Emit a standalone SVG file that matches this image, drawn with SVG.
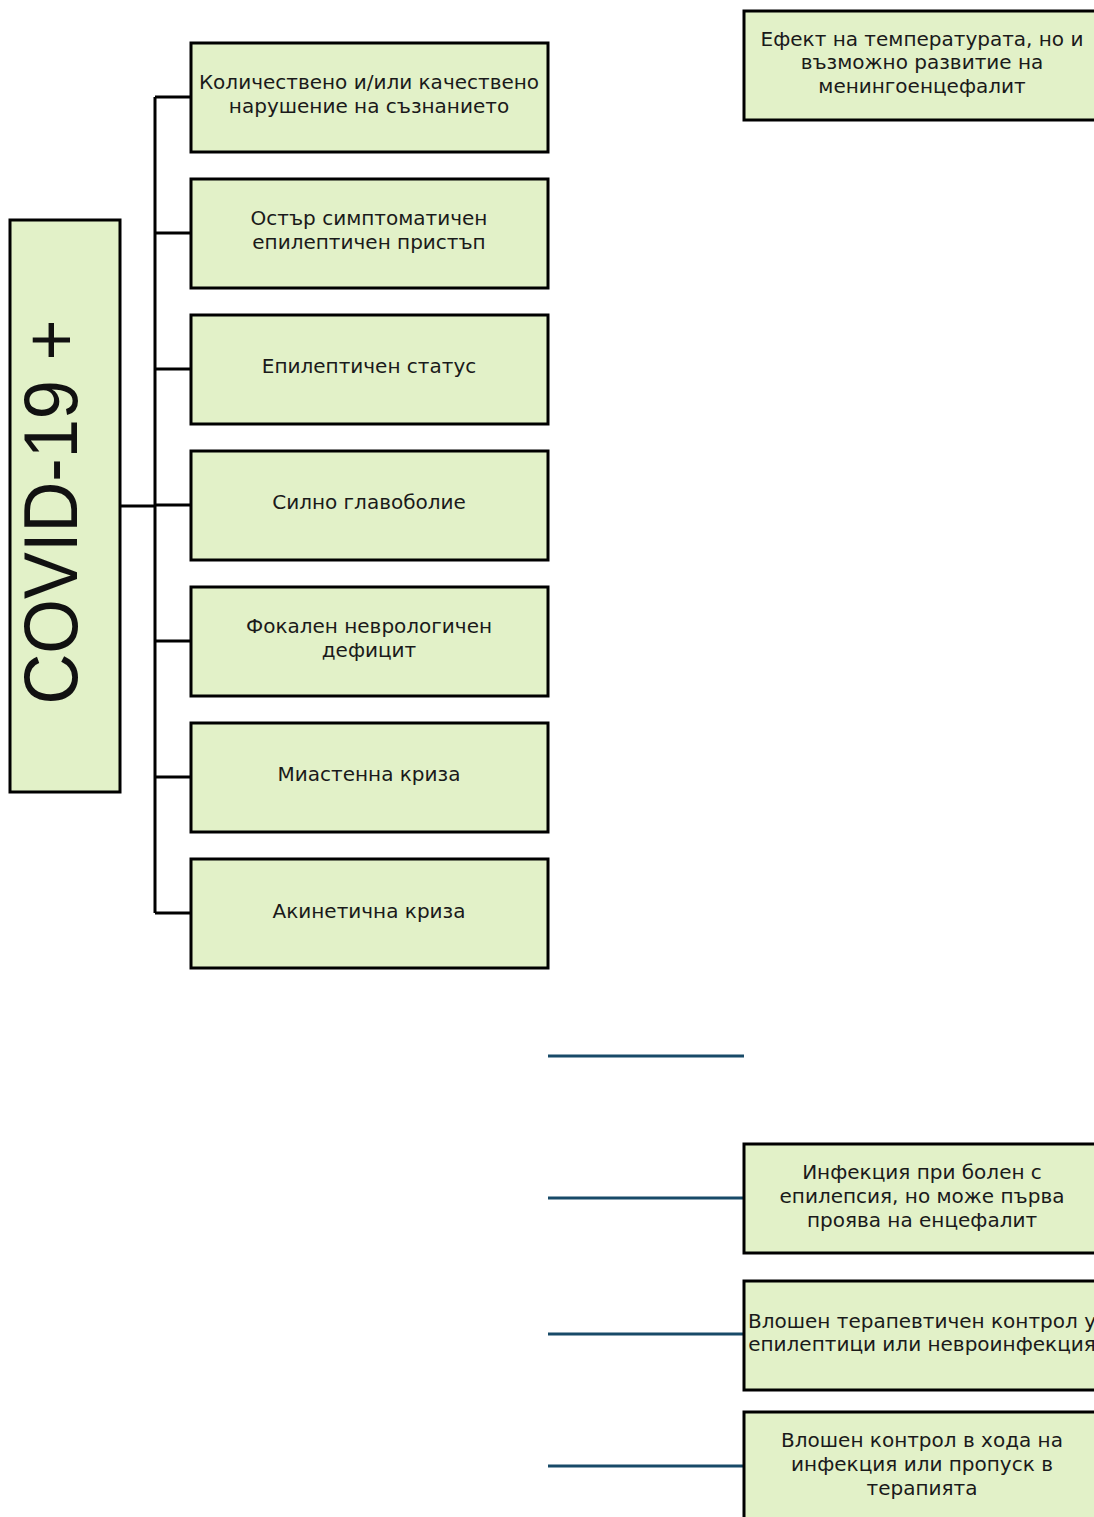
<svg xmlns="http://www.w3.org/2000/svg" width="1094" height="1517" viewBox="0 0 1094 1517">
<style>
.box{fill:#e2f1c8;stroke:#000;stroke-width:3}
.t{font-family:"DejaVu Sans","Liberation Sans",sans-serif;font-size:20px;fill:#1a1a1a;text-anchor:middle}
.k{fill:none;stroke:#000;stroke-width:3}
.b{fill:none;stroke:#184a68;stroke-width:3}
</style>
<rect width="1094" height="1517" fill="#fff"/>
<g id="connectors">
<path class="k" d="M120 506H155M155 97V913M155 97H191M155 233H191M155 369H191M155 505H191M155 641H191M155 777H191M155 913H191"/>
<path class="b" d="M548 1056H744M548 1198H744M548 1334H744M548 1466H744"/>
</g>
<g id="covid"><rect class="box" x="10" y="220" width="110" height="572"/>
<text transform="translate(77 512) rotate(-90)" style="font-family:'Liberation Sans',sans-serif;font-size:76px;fill:#111;text-anchor:middle" textLength="385" lengthAdjust="spacingAndGlyphs">COVID-19 +</text></g>
<g id="n1"><rect class="box" x="191" y="43" width="357" height="109"/><text class="t" x="369" y="89">Количествено и/или качествено</text><text class="t" x="369" y="113">нарушение на съзнанието</text></g>
<g id="n2"><rect class="box" x="191" y="179" width="357" height="109"/><text class="t" x="369" y="225">Остър симптоматичен</text><text class="t" x="369" y="249">епилептичен пристъп</text></g>
<g id="n3"><rect class="box" x="191" y="315" width="357" height="109"/><text class="t" x="369" y="373">Епилептичен статус</text></g>
<g id="n4"><rect class="box" x="191" y="451" width="357" height="109"/><text class="t" x="369" y="509">Силно главоболие</text></g>
<g id="n5"><rect class="box" x="191" y="587" width="357" height="109"/><text class="t" x="369" y="633">Фокален неврологичен</text><text class="t" x="369" y="657">дефицит</text></g>
<g id="n6"><rect class="box" x="191" y="723" width="357" height="109"/><text class="t" x="369" y="781">Миастенна криза</text></g>
<g id="n7"><rect class="box" x="191" y="859" width="357" height="109"/><text class="t" x="369" y="918">Акинетична криза</text></g>
<g id="r1"><rect class="box" x="744" y="11" width="360" height="109"/><text class="t" x="922" y="46">Ефект на температурата, но и</text><text class="t" x="922" y="69">възможно развитие на</text><text class="t" x="922" y="93">менингоенцефалит</text></g>
<g id="r2"><rect class="box" x="744" y="1144" width="360" height="109"/><text class="t" x="922" y="1179">Инфекция при болен с</text><text class="t" x="922" y="1203">епилепсия, но може първа</text><text class="t" x="922" y="1227">проява на енцефалит</text></g>
<g id="r3"><rect class="box" x="744" y="1281" width="360" height="109"/><text class="t" x="922" y="1328">Влошен терапевтичен контрол у</text><text class="t" x="922" y="1351">епилептици или невроинфекция</text></g>
<g id="r4"><rect class="box" x="744" y="1412" width="360" height="120"/><text class="t" x="922" y="1447">Влошен контрол в хода на</text><text class="t" x="922" y="1471">инфекция или пропуск в</text><text class="t" x="922" y="1495">терапията</text></g>
</svg>
